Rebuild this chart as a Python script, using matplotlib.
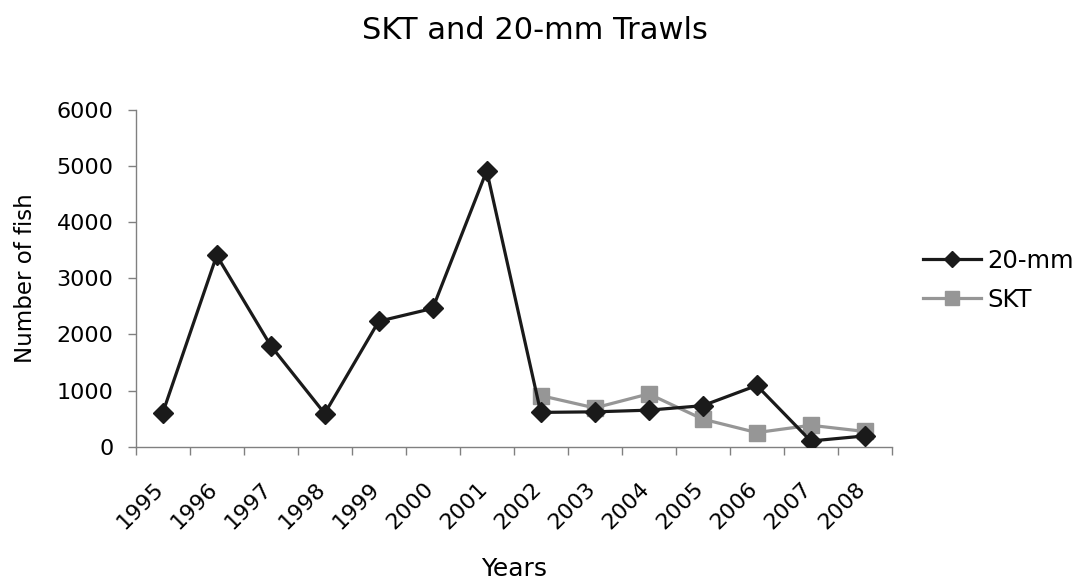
import matplotlib
matplotlib.use('Agg')
import matplotlib.pyplot as plt
from matplotlib.transforms import ScaledTranslation
import numpy as np

plt.rcParams['font.family'] = ['DejaVu Sans']

years = ['1995', '1996', '1997', '1998', '1999', '2000', '2001',
         '2002', '2003', '2004', '2005', '2006', '2007', '2008']
mm20 = [600, 3410, 1800, 590, 2235, 2465, 4920,
        610, 620, 650, 730, 1090, 100, 190]
skt_years = ['2002', '2003', '2004', '2005', '2006', '2007', '2008']
skt = [910, 690, 940, 490, 250, 380, 270]

fig = plt.figure(figsize=(10.77, 5.80), dpi=100)
ax = fig.add_axes([0.126, 0.230, 0.702, 0.580])

x_all = np.arange(len(years)) + 0.5
x_skt = np.array([years.index(y) for y in skt_years]) + 0.5

ax.plot(x_all, mm20, color='#1a1a1a', lw=2.3, marker='D', ms=10,
        mec='#1a1a1a', mfc='#1a1a1a', label='20-mm', zorder=3)
ax.plot(x_skt, skt, color='#969696', lw=2.3, marker='s', ms=11.5,
        mec='#969696', mfc='#969696', label='SKT', zorder=2)

ax.set_xlim(0, len(years))
ax.set_ylim(0, 6000)
ax.set_yticks(range(0, 6001, 1000))
ax.tick_params(axis='y', labelsize=16, length=6, width=1, color='#808080', pad=10)

# tick marks between categories, labels at category centres
ax.set_xticks(np.arange(len(years) + 1))
ax.set_xticklabels([])
ax.tick_params(axis='x', which='major', length=6, width=1, color='#808080')
ax.set_xticks(x_all, minor=True)
ax.set_xticklabels(years, minor=True, rotation=45, ha='right', va='top',
                   rotation_mode='anchor', fontsize=16)
ax.tick_params(axis='x', which='minor', length=0, pad=23)
for lbl in ax.get_xticklabels(minor=True):
    lbl.set_transform(lbl.get_transform() + ScaledTranslation(-7 / 72, 0, fig.dpi_scale_trans))

for s in ['top', 'right']:
    ax.spines[s].set_visible(False)
for s in ['left', 'bottom']:
    ax.spines[s].set_color('#808080')
    ax.spines[s].set_linewidth(1)

ax.set_xlabel('Years', fontsize=18, labelpad=17)
ax.set_ylabel('Number of fish', fontsize=16.5, labelpad=14)
fig.suptitle('SKT and 20-mm Trawls', fontsize=22, x=0.497, y=0.972)

ax.legend(loc='center left', bbox_to_anchor=(0.848, 0.517), bbox_transform=fig.transFigure,
          frameon=False, fontsize=17.5, handlelength=2.4, handletextpad=0.25,
          labelspacing=0.62, borderaxespad=0, markerscale=0.85)

fig.savefig('out.png', dpi=100)
